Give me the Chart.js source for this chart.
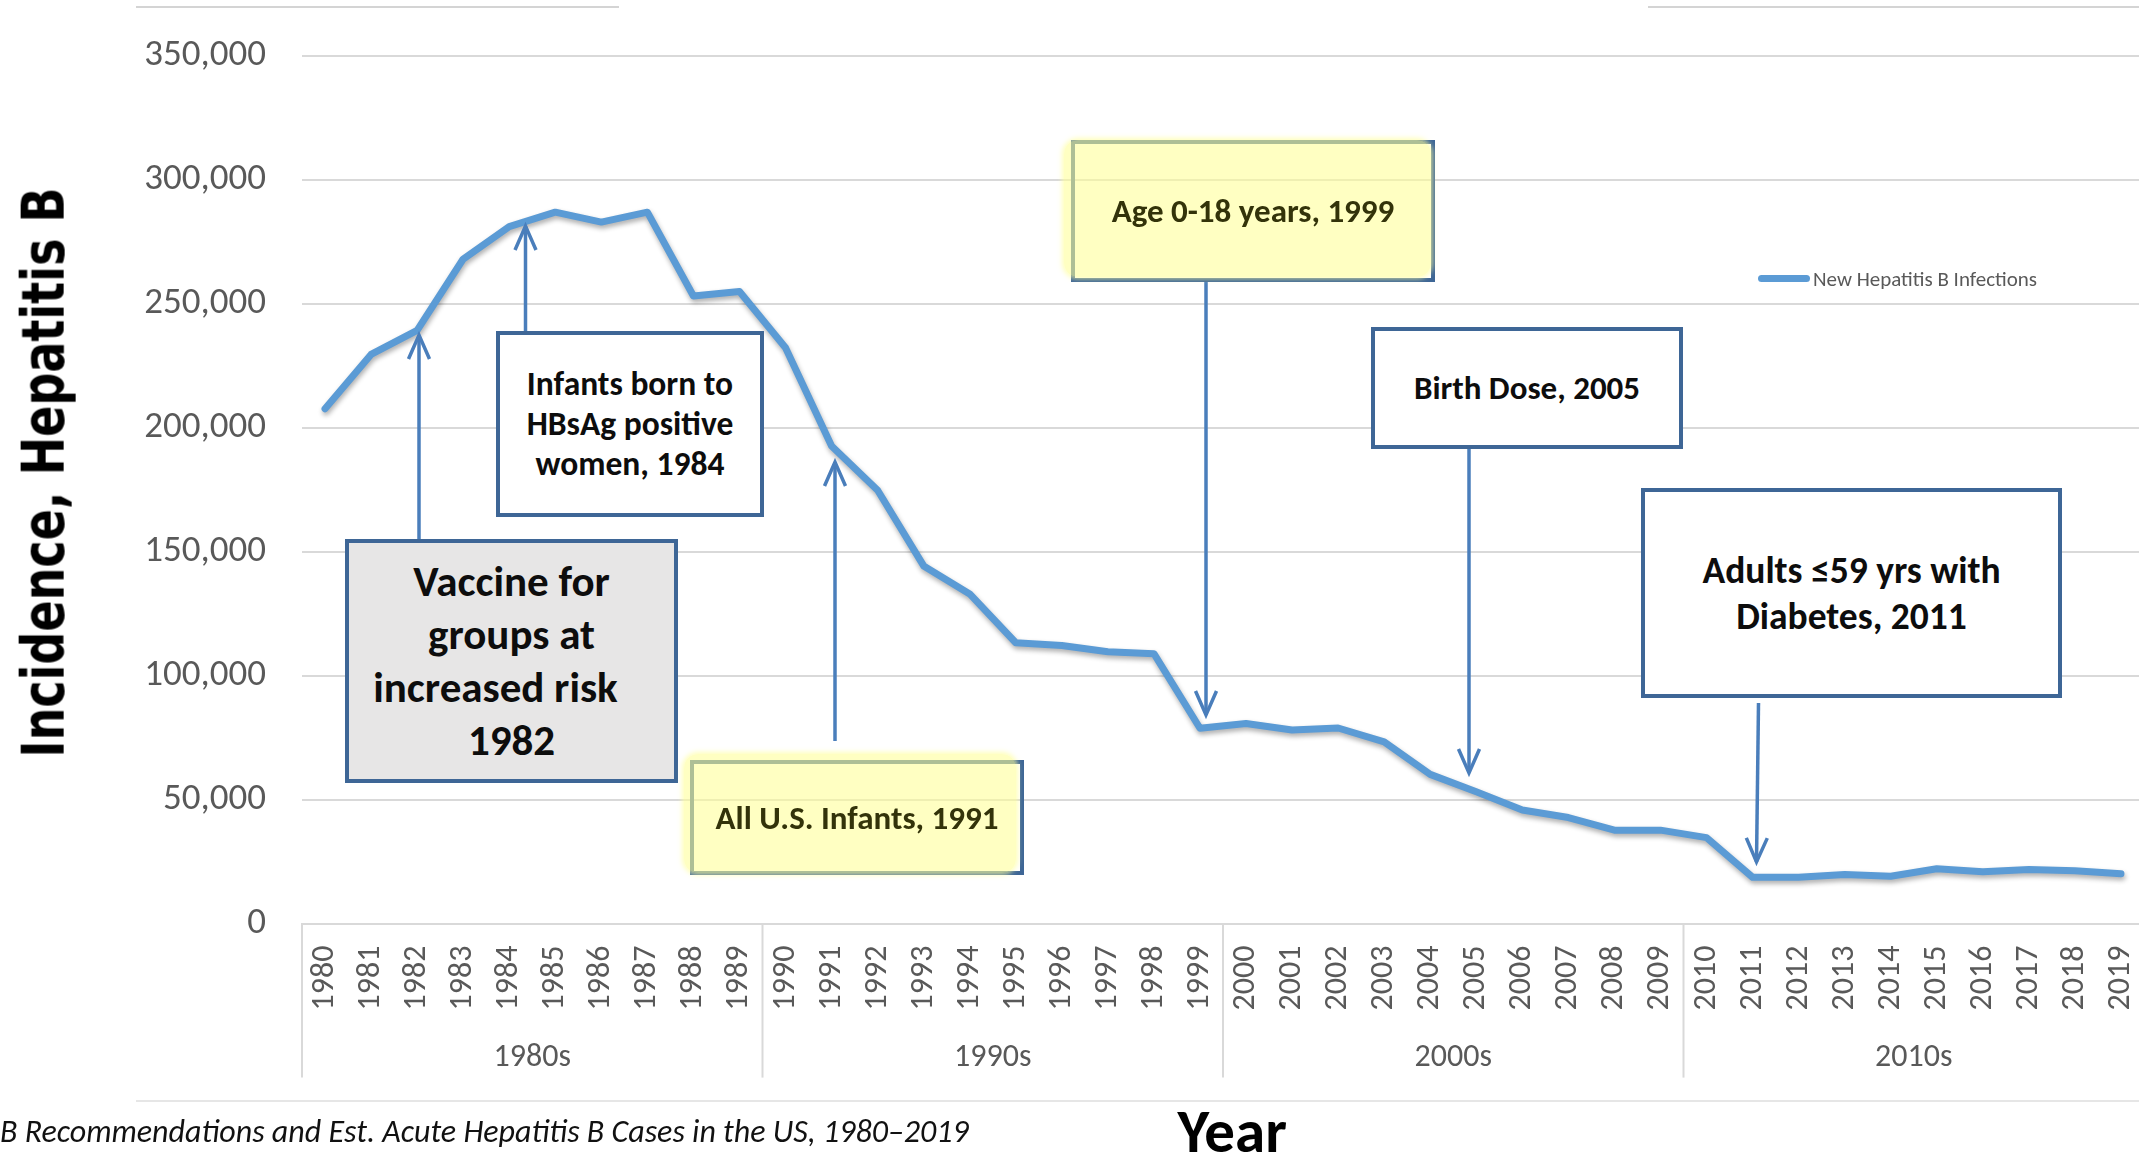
<!DOCTYPE html>
<html>
<head>
<meta charset="utf-8">
<title>Hepatitis B Recommendations and Est. Acute Hepatitis B Cases in the US, 1980–2019</title>
<script src="https://cdn.jsdelivr.net/npm/chart.js@4.4.1/dist/chart.umd.min.js"></script>
<style>
  :root { --cal: Carlito, Calibri, "Liberation Sans Narrow", "Open Sans", sans-serif; }
  html, body { margin: 0; padding: 0; background: #fff; overflow: hidden; }
  #wrap { position: relative; width: 2146px; height: 1157px; }
  #chart { position: absolute; left: 0; top: 0; }
  .rule { position: absolute; height: 2px; }
  .box { position: absolute; box-sizing: border-box; border: 4px solid #3e6696;
         font-family: var(--cal); font-weight: 700; color: #0d0d0d; white-space: nowrap; }
  .box .txt { position: absolute; inset: 0; display: flex; flex-direction: column;
              align-items: center; justify-content: center; text-align: center; }
  .glow { position: absolute; border-radius: 14px; background: rgba(255, 255, 150, 0.58);
          box-shadow: 0 0 5px 2px rgba(255, 255, 160, 0.7); }
  .olive { color: #33330a; }
  .lbl { position: absolute; white-space: nowrap; }
</style>
</head>
<body>
<div id="wrap">
  <canvas id="chart" width="2146" height="1157"></canvas>

  <!-- frame rules around the chart -->
  <div class="rule" style="left:136px; top:6px; width:483px; background:#d4d4d4;"></div>
  <div class="rule" style="left:1648px; top:6px; width:498px; background:#d4d4d4;"></div>
  <div class="rule" style="left:136px; top:1100px; width:2010px; background:#e6e6e6;"></div>

  <!-- y axis title -->
  <div id="ytitle" class="lbl" style="font-family:'DejaVu Sans', Verdana, sans-serif; font-weight:700; font-size:59px; line-height:59px; color:#000;">Incidence, Hepatitis B</div>

  <!-- legend -->
  <div class="lbl" style="left:1758px; top:275px; width:52px; height:7px; border-radius:4px; background:#5B9BD5;"></div>
  <div class="lbl" style="left:1813px; top:266px; font-family:var(--cal); font-size:21px; line-height:26px; color:#595959;">New Hepatitis B Infections</div>

  <!-- recommendation call-outs -->
  <div class="box" style="left:345px; top:539px; width:333px; height:244px; background:#e7e6e6;">
    <div class="txt" style="font-size:43px; line-height:53px;">
      <span>Vaccine for</span><span>groups at</span><span style="position:relative; left:-16px;">increased risk</span><span>1982</span>
    </div>
  </div>
  <div class="box" style="left:496px; top:331px; width:268px; height:186px; background:#fff;">
    <div class="txt" style="font-size:33.5px; line-height:40px;">
      <span>Infants born to</span><span>HBsAg positive</span><span>women, 1984</span>
    </div>
  </div>
  <div class="box" style="left:690px; top:760px; width:334px; height:115px;">
    <div class="glow" style="left:-10px; top:-10px; width:332px; height:119px;"></div>
    <div class="txt olive" style="font-size:33px;"><span>All U.S. Infants, 1991</span></div>
  </div>
  <div class="box" style="left:1071px; top:140px; width:364px; height:142px;">
    <div class="glow" style="left:-11px; top:-4px; width:367px; height:137px;"></div>
    <div class="txt olive" style="font-size:33px;"><span>Age 0-18 years, 1999</span></div>
  </div>
  <div class="box" style="left:1371px; top:327px; width:312px; height:122px; background:#fff;">
    <div class="txt" style="font-size:33px;"><span>Birth Dose, 2005</span></div>
  </div>
  <div class="box" style="left:1641px; top:488px; width:421px; height:210px; background:#fff;">
    <div class="txt" style="font-size:37.5px; line-height:46px;">
      <span>Adults ≤59 yrs with</span><span>Diabetes, 2011</span>
    </div>
  </div>

  <!-- x axis title and source caption -->
  <div id="xtitle" class="lbl" style="font-family:var(--cal); font-weight:700; font-size:61px; line-height:61px; color:#000;">Year</div>
  <div id="caption" class="lbl" style="left:0px; font-family:var(--cal); font-style:italic; font-size:32px; line-height:32px; color:#111;">B Recommendations and Est. Acute Hepatitis B Cases in the US, 1980–2019</div>
</div>

<script>
// Estimated new (acute) hepatitis B infections per year, US
const years = ['1980','1981','1982','1983','1984','1985','1986','1987','1988','1989',
               '1990','1991','1992','1993','1994','1995','1996','1997','1998','1999',
               '2000','2001','2002','2003','2004','2005','2006','2007','2008','2009',
               '2010','2011','2012','2013','2014','2015','2016','2017','2018','2019'];
const infections = [207700, 229600, 239300, 268100, 281200, 287000, 283000, 287000, 253200, 255000,
                    232300, 192700, 174800, 144300, 133000, 113300, 112200, 109700, 108900, 78800,
                    80700, 78100, 78900, 73300, 60200, 53200, 45800, 42800, 37700, 37700,
                    34700, 18700, 18700, 19800, 19100, 22100, 20900, 21800, 21300, 20100];
const decades = ['1980s', '1990s', '2000s', '2010s'];
const yMax = 350000;
const yStep = 50000;

const CAL = 'Carlito, Calibri, "Liberation Sans Narrow", "Open Sans", sans-serif';
const GRID = '#d9d9d9';
const ARROW = '#4a7ebb';

// soft drop shadow under the series line
const lineShadow = {
  id: 'lineShadow',
  beforeDatasetDraw(chart) {
    const ctx = chart.ctx;
    ctx.save();
    ctx.shadowColor = 'rgba(0,0,0,0.32)';
    ctx.shadowBlur = 5;
    ctx.shadowOffsetX = 1;
    ctx.shadowOffsetY = 3;
  },
  afterDatasetDraw(chart) { chart.ctx.restore(); }
};

// decade grouping row under the year labels
const decadeAxis = {
  id: 'decadeAxis',
  afterDraw(chart) {
    const { ctx, chartArea, scales: { x } } = chart;
    const step = x.getPixelForValue(1) - x.getPixelForValue(0);
    const sepBottom = chartArea.bottom + 154;
    const labelY = chartArea.bottom + 134;
    ctx.save();
    ctx.strokeStyle = GRID;
    ctx.lineWidth = 2;
    ctx.fillStyle = '#595959';
    ctx.font = '32px ' + CAL;
    ctx.textAlign = 'center';
    ctx.textBaseline = 'middle';
    decades.forEach(d => {
      const idx = years.map((y, i) => (y.slice(0, 3) + '0s' === d ? i : -1)).filter(i => i >= 0);
      const left = x.getPixelForValue(idx[0]) - step / 2;
      const right = x.getPixelForValue(idx[idx.length - 1]) + step / 2;
      ctx.beginPath();
      ctx.moveTo(left, chartArea.bottom);
      ctx.lineTo(left, sepBottom);
      ctx.stroke();
      ctx.fillText(d, (left + right) / 2, labelY);
    });
    ctx.restore();
  }
};

// pointer arrows from the call-out boxes to the curve (tail -> tip)
const arrowPaths = [
  [419, 539, 419, 335],
  [525.5, 331, 525.5, 226],
  [835, 741, 835, 462],
  [1206, 282, 1206, 715],
  [1469, 448, 1469, 773],
  [1758.5, 703, 1756.5, 862]
];
const arrows = {
  id: 'arrows',
  afterDatasetsDraw(chart) {
    const ctx = chart.ctx;
    ctx.save();
    ctx.strokeStyle = ARROW;
    ctx.lineWidth = 3.5;
    ctx.lineCap = 'butt';
    ctx.lineJoin = 'miter';
    arrowPaths.forEach(([x1, y1, x2, y2]) => {
      const ang = Math.atan2(y2 - y1, x2 - x1);
      const len = 24, half = 10.5;
      ctx.beginPath();
      ctx.moveTo(x1, y1);
      ctx.lineTo(x2, y2);
      ctx.stroke();
      const bx = x2 - Math.cos(ang) * len, by = y2 - Math.sin(ang) * len;
      const nx = -Math.sin(ang) * half, ny = Math.cos(ang) * half;
      ctx.beginPath();
      ctx.moveTo(bx + nx, by + ny);
      ctx.lineTo(x2, y2);
      ctx.lineTo(bx - nx, by - ny);
      ctx.stroke();
    });
    ctx.restore();
  }
};

const chart = new Chart(document.getElementById('chart'), {
  type: 'line',
  data: {
    labels: years,
    datasets: [{
      label: 'New Hepatitis B Infections',
      data: infections,
      borderColor: '#5B9BD5',
      backgroundColor: '#5B9BD5',
      borderWidth: 7,
      pointRadius: 0,
      pointHoverRadius: 0,
      tension: 0,
      fill: false,
      borderCapStyle: 'round',
      borderJoinStyle: 'round'
    }]
  },
  options: {
    responsive: false,
    animation: false,
    devicePixelRatio: 1,
    layout: { padding: { top: 56, right: 2, left: 0, bottom: 0 } },
    plugins: { legend: { display: false }, tooltip: { enabled: false } },
    scales: {
      x: {
        offset: true,
        grid: { display: false, drawTicks: false },
        border: { display: true, color: GRID, width: 2 },
        ticks: {
          autoSkip: false, minRotation: 90, maxRotation: 90, padding: 22,
          color: '#595959', font: { family: CAL, size: 32 }
        },
        afterFit(s) { s.height = 233.4; s.paddingLeft = 0; s.paddingRight = 0; }
      },
      y: {
        min: 0, max: yMax,
        ticks: {
          stepSize: yStep, padding: 36, color: '#595959',
          font: { family: CAL, size: 37 },
          callback: v => v.toLocaleString('en-US')
        },
        grid: { color: GRID, lineWidth: 2, drawTicks: false },
        border: { display: false },
        afterFit(s) { s.width = 302; s.paddingTop = 0; s.paddingBottom = 0; }
      }
    }
  },
  plugins: [lineShadow, arrows, decadeAxis]
});

// place the rotated y title and the bottom texts
(function () {
  const yt = document.getElementById('ytitle');
  const w = yt.offsetWidth, h = yt.offsetHeight;
  yt.style.left = (43 - w / 2) + 'px';
  yt.style.top = (472 - h / 2) + 'px';
  yt.style.transform = 'rotate(-90deg) scaleX(' + (570 / w) + ')';

  const xt = document.getElementById('xtitle');
  xt.style.left = (1232 - xt.offsetWidth / 2) + 'px';
  xt.style.top = (1153 - 52) + 'px';

  const cap = document.getElementById('caption');
  cap.style.top = (1144 - 28) + 'px';
})();
</script>
</body>
</html>
